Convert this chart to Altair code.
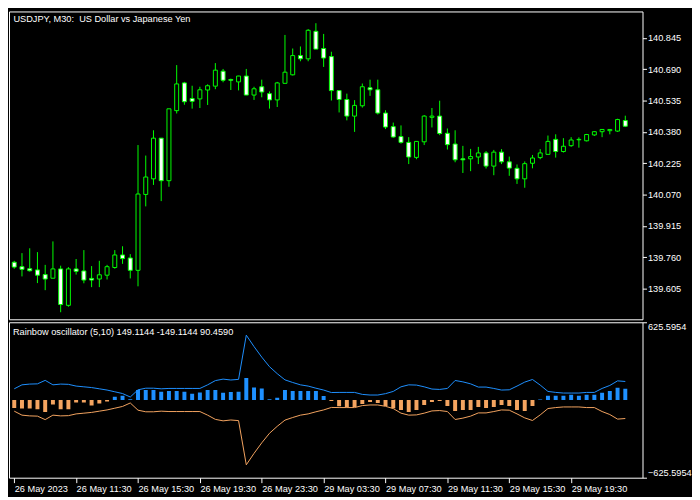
import altair as alt
import pandas as pd

# ---------------- data ----------------
opens = [139.736, 139.714, 139.704, 139.698, 139.675, 139.657, 139.703, 139.523, 139.703, 139.693,
         139.656, 139.653, 139.672, 139.710, 139.772, 139.757, 139.696, 140.071, 140.148, 140.349,
         140.139, 140.485, 140.622, 140.545, 140.543, 140.587, 140.606, 140.680, 140.639, 140.627,
         140.656, 140.562, 140.603, 140.569, 140.538, 140.620, 140.662, 140.757, 140.741, 140.877,
         140.792, 140.752, 140.584, 140.540, 140.458, 140.509, 140.598, 140.588, 140.473, 140.406,
         140.357, 140.328, 140.254, 140.331, 140.452, 140.458, 140.373, 140.320, 140.247, 140.247,
         140.256, 140.276, 140.211, 140.280, 140.232, 140.200, 140.148, 140.225, 140.253, 140.269,
         140.343, 140.283, 140.312, 140.341, 140.336, 140.365, 140.381, 140.386, 140.384, 140.436]
highs = [139.743, 139.781, 139.805, 139.786, 139.723, 139.839, 139.719, 139.712, 139.752, 139.796,
         139.717, 139.743, 139.723, 139.796, 139.815, 139.776, 140.315, 140.263, 140.388, 140.349,
         140.494, 140.710, 140.627, 140.608, 140.603, 140.615, 140.720, 140.691, 140.643, 140.657,
         140.691, 140.603, 140.638, 140.580, 140.627, 140.859, 140.792, 140.802, 140.888, 140.917,
         140.864, 140.776, 140.584, 140.569, 140.537, 140.619, 140.638, 140.638, 140.487, 140.426,
         140.412, 140.354, 140.333, 140.463, 140.498, 140.534, 140.397, 140.388, 140.311, 140.296,
         140.306, 140.285, 140.291, 140.295, 140.258, 140.219, 140.234, 140.266, 140.295, 140.362,
         140.368, 140.349, 140.354, 140.353, 140.370, 140.383, 140.392, 140.392, 140.445, 140.460]
lows = [139.704, 139.666, 139.690, 139.633, 139.598, 139.657, 139.489, 139.516, 139.675, 139.632,
        139.613, 139.613, 139.651, 139.704, 139.728, 139.656, 139.617, 140.012, 140.118, 140.038,
        140.109, 140.471, 140.514, 140.495, 140.498, 140.513, 140.591, 140.625, 140.587, 140.585,
        140.562, 140.538, 140.551, 140.495, 140.503, 140.620, 140.659, 140.729, 140.729, 140.789,
        140.701, 140.535, 140.476, 140.437, 140.380, 140.500, 140.558, 140.466, 140.394, 140.351,
        140.322, 140.221, 140.245, 140.315, 140.402, 140.364, 140.293, 140.230, 140.177, 140.186,
        140.221, 140.199, 140.166, 140.221, 140.163, 140.123, 140.104, 140.200, 140.245, 140.269,
        140.253, 140.278, 140.306, 140.302, 140.333, 140.360, 140.354, 140.368, 140.380, 140.404]
closes = [139.712, 139.701, 139.694, 139.672, 139.653, 139.703, 139.527, 139.703, 139.691, 139.648,
          139.648, 139.674, 139.714, 139.772, 139.754, 139.696, 140.073, 140.157, 140.349, 140.139,
          140.494, 140.617, 140.529, 140.531, 140.588, 140.608, 140.685, 140.635, 140.635, 140.656,
          140.562, 140.593, 140.577, 140.538, 140.622, 140.675, 140.757, 140.741, 140.882, 140.789,
          140.745, 140.584, 140.540, 140.458, 140.511, 140.603, 140.588, 140.473, 140.404, 140.355,
          140.328, 140.256, 140.333, 140.458, 140.458, 140.372, 140.317, 140.242, 140.242, 140.258,
          140.276, 140.211, 140.280, 140.232, 140.201, 140.148, 140.223, 140.251, 140.276, 140.333,
          140.283, 140.309, 140.340, 140.343, 140.367, 140.381, 140.392, 140.392, 140.441, 140.408]

hist = [-64, -69, -69, -75, -96, -37, -75, -75, -21, -21,
        -45, -29, -13, 27, 35, 5, 80, 80, 80, 67,
        72, 72, 67, 51, 61, 80, 80, 59, 64, 67,
        178, 100, 92, 5, 19, 80, 72, 72, 72, 72,
        33, -8, -51, -56, -56, -32, -16, -24, -48, -67,
        -80, -96, -80, -40, -16, -8, -48, -88, -80, -80,
        -56, -64, -56, -40, -48, -80, -88, -48, 4, 35,
        35, 35, 43, 35, 43, 43, 59, 72, 99, 90.459]

band = [90, 122, 128, 130, 158, 122, 128, 126, 112, 106,
        100, 90, 80, 66, 52, 24, 82, 95, 95, 90,
        93, 93, 93, 93, 93, 122, 156, 168, 161, 166,
        522, 430, 345, 268, 212, 162, 141, 122, 112, 95,
        80, 60, 61, 61, 61, 45, 40, 40, 51, 69,
        106, 122, 120, 106, 88, 85, 93, 157, 146, 130,
        104, 104, 93, 80, 82, 112, 144, 165, 120, 69,
        61, 56, 56, 56, 61, 61, 93, 117, 154, 149.1144]

price_ticks = [139.605, 139.760, 139.915, 140.070, 140.225, 140.380, 140.535, 140.690, 140.845]
osc_ticks = [-625.5954, 625.5954]
time_tick_bars = [0, 8, 16, 24, 32, 40, 48, 56, 64, 72]
time_labels = ["26 May 2023", "26 May 11:30", "26 May 15:30", "26 May 19:30", "26 May 23:30",
               "29 May 03:30", "29 May 07:30", "29 May 11:30", "29 May 15:30", "29 May 19:30"]

main_title = "USDJPY, M30:\u00a0 US Dollar vs Japanese Yen"
osc_title = "Rainbow oscillator (5,10) 149.1144 -149.1144 90.4590"

# ---------------- tables ----------------
n = len(opens)
candles = pd.DataFrame({
    "bar": list(range(n)), "open": opens, "high": highs, "low": lows, "close": closes,
})
candles["dir"] = ["bull" if c >= o else "bear" for o, c in zip(opens, closes)]

osc = pd.DataFrame({"bar": list(range(n)), "hist": hist, "band": band})
osc["sign"] = ["pos" if v >= 0 else "neg" for v in hist]

FONT = "Liberation Sans"
FS = 9.3
GREEN = "#00ff00"
BLUE = "#1e90ff"
ORANGE = "#f4a460"
W = 640

xscale = alt.Scale(domain=[-0.04, 80.585], nice=False, zero=False)
pscale = alt.Scale(domain=[139.454, 140.975], nice=False, zero=False)
oscale = alt.Scale(domain=[-625.5954, 625.5954], nice=False, zero=False)

price_axis = alt.Axis(orient="right", values=price_ticks, format=".3f", title=None,
                      grid=False, domain=False, tickColor="white", tickSize=4,
                      labelColor="white", labelFont=FONT, labelFontSize=FS, labelPadding=1,
                      labelOverlap=False, labelSeparation=0, labelBound=False)
no_x = alt.Axis(orient="bottom", labels=False, ticks=False, domain=False, grid=False, title=None)

base = alt.Chart(candles)
wicks = base.mark_rule(color=GREEN, strokeWidth=1, clip=True).encode(
    x=alt.X("bar:Q", scale=xscale, axis=None),
    y=alt.Y("low:Q", scale=pscale, axis=price_axis),
    y2="high:Q",
)
bodies = base.mark_bar(width=4, stroke=GREEN, strokeWidth=1, clip=True).encode(
    x=alt.X("bar:Q", scale=xscale, axis=None),
    y=alt.Y("open:Q", scale=pscale, axis=price_axis),
    y2="close:Q",
    fill=alt.Fill("dir:N", scale=alt.Scale(domain=["bull", "bear"], range=["#000000", "#ffffff"]),
                  legend=None),
)
title1 = alt.Chart(pd.DataFrame({"t": [main_title]})).mark_text(
    align="left", baseline="alphabetic", color="white", font=FONT, fontSize=FS
).encode(x=alt.value(4.5), y=alt.value(10.5), text="t:N")

top = alt.layer(wicks, bodies, title1).properties(width=W, height=311)

label_expr = "[" + ",".join("'" + s + "'" for s in time_labels) + "][round(datum.value/8)]"
time_axis = alt.Axis(orient="bottom", values=time_tick_bars, labelExpr=label_expr, title=None,
                     grid=False, domain=False, tickColor="white", tickSize=5,
                     labelColor="white", labelFont=FONT, labelFontSize=FS,
                     labelAlign="left", labelPadding=2, labelOverlap=False, labelBound=False)
osc_axis = alt.Axis(orient="right", values=osc_ticks, format=".4f", title=None,
                    grid=False, domain=False, tickColor="white", tickSize=4,
                    labelColor="white", labelFont=FONT, labelFontSize=FS, labelPadding=1,
                    labelFlush=True, labelOverlap=False)

obase = alt.Chart(osc)
bars_h = obase.mark_bar(width=4, clip=True).encode(
    x=alt.X("bar:Q", scale=xscale, axis=time_axis),
    y=alt.Y("hist:Q", scale=oscale, axis=osc_axis),
    y2=alt.datum(0),
    color=alt.Color("sign:N", scale=alt.Scale(domain=["pos", "neg"], range=[BLUE, ORANGE]),
                    legend=None),
)
upper = obase.mark_line(color=BLUE, strokeWidth=1, clip=True).encode(
    x=alt.X("bar:Q", scale=xscale, axis=time_axis),
    y=alt.Y("band:Q", scale=oscale, axis=osc_axis),
)
lower = obase.transform_calculate(lower="-datum.band").mark_line(
    color=ORANGE, strokeWidth=1, clip=True
).encode(
    x=alt.X("bar:Q", scale=xscale, axis=time_axis),
    y=alt.Y("lower:Q", scale=oscale, axis=osc_axis),
)
title2 = alt.Chart(pd.DataFrame({"t": [osc_title]})).mark_text(
    align="left", baseline="alphabetic", color="white", font=FONT, fontSize=FS
).encode(x=alt.value(4), y=alt.value(12.5), text="t:N")

bottom = alt.layer(bars_h, upper, lower, title2).properties(width=W, height=157)

chart = alt.vconcat(top, bottom, spacing=1).properties(
    background="black",
    padding=0,
).configure_view(stroke="white", strokeWidth=1)

chart.save("out.html", embed_options={"renderer": "svg", "actions": False})
